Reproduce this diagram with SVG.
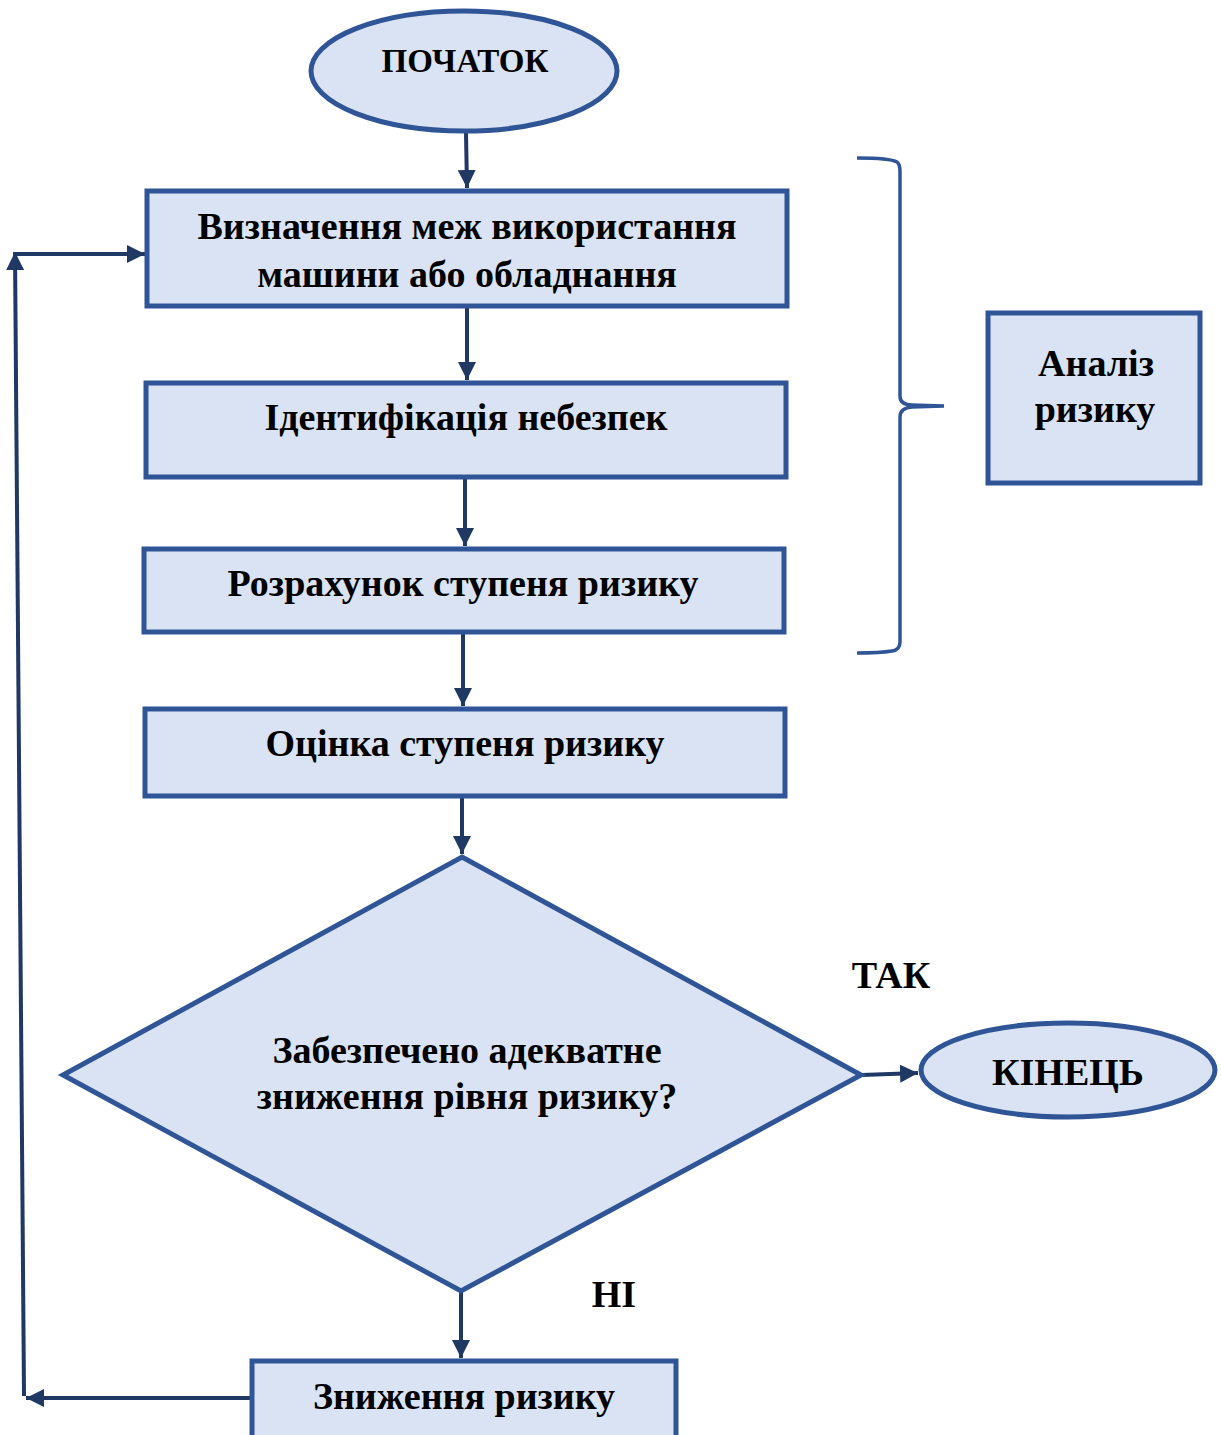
<svg xmlns="http://www.w3.org/2000/svg" width="1221" height="1435" viewBox="0 0 1221 1435">
<defs>
<style>
.n{fill:#DAE3F3;stroke:#2F5597;stroke-width:5}
.t{font-family:"Liberation Serif","Times New Roman",serif;font-weight:bold;fill:#000;text-anchor:middle;font-size:38px}
.c{fill:none;stroke:#1F3864;stroke-width:4}
.b{fill:none;stroke:#2F5597;stroke-width:3.5}
</style>
<marker id="ah" viewBox="0 0 10 10" refX="10" refY="5" markerWidth="4.5" markerHeight="4.5" orient="auto" markerUnits="strokeWidth">
<path d="M0,0 L10,5 L0,10 z" fill="#1F3864"/>
</marker>
</defs>
<rect width="1221" height="1435" fill="#fff"/>
<g id="connectors">
<line class="c" x1="466" y1="133" x2="467" y2="188" marker-end="url(#ah)"/>
<line class="c" x1="467" y1="308" x2="467" y2="380" marker-end="url(#ah)"/>
<line class="c" x1="465" y1="479" x2="465" y2="546" marker-end="url(#ah)"/>
<line class="c" x1="463" y1="634" x2="463" y2="706" marker-end="url(#ah)"/>
<line class="c" x1="462" y1="798" x2="462" y2="854" marker-end="url(#ah)"/>
<line class="c" x1="461" y1="1292" x2="461" y2="1358" marker-end="url(#ah)"/>
<line class="c" x1="862" y1="1075" x2="918" y2="1073" marker-end="url(#ah)"/>
<line class="c" x1="251" y1="1398" x2="26" y2="1398" marker-end="url(#ah)"/>
<line class="c" x1="24" y1="1396" x2="15" y2="252" marker-end="url(#ah)"/>
<line class="c" x1="15" y1="254" x2="145" y2="254" marker-end="url(#ah)"/>
</g>
<g id="brace">
<path class="b" d="M857,158 Q890,158 897,162 Q900,164 900,172 L900,396 Q900,405 912,405 L944,406 L912,407 Q900,408 900,417 L900,642 Q900,650 892,651 Q880,653 857,653"/>
</g>
<g id="start">
<ellipse class="n" cx="464" cy="71" rx="153" ry="60"/>
<text class="t" x="465" y="72" style="font-size:33px">ПОЧАТОК</text>
</g>
<g id="box1">
<rect class="n" x="147" y="191" width="640" height="115"/>
<text class="t" x="467" y="239">Визначення меж використання</text>
<text class="t" x="467" y="287">машини або обладнання</text>
</g>
<g id="box2">
<rect class="n" x="146" y="383" width="640" height="94"/>
<text class="t" x="466" y="430">Ідентифікація небезпек</text>
</g>
<g id="box3">
<rect class="n" x="144" y="549" width="640" height="83"/>
<text class="t" x="463" y="596">Розрахунок ступеня ризику</text>
</g>
<g id="box4">
<rect class="n" x="145" y="709" width="640" height="87"/>
<text class="t" x="465" y="756">Оцінка ступеня ризику</text>
</g>
<g id="analysis">
<rect class="n" x="988" y="313" width="212" height="170"/>
<text class="t" x="1096" y="376">Аналіз</text>
<text class="t" x="1095" y="422">ризику</text>
</g>
<g id="decision">
<polygon class="n" points="462,857 861,1075 461,1291 63,1075"/>
<text class="t" x="467" y="1063">Забезпечено адекватне</text>
<text class="t" x="467" y="1109">зниження рівня ризику?</text>
</g>
<g id="end">
<ellipse class="n" cx="1068" cy="1070" rx="147" ry="47"/>
<text class="t" x="1068" y="1085">КІНЕЦЬ</text>
</g>
<g id="reduce">
<rect class="n" x="252" y="1361" width="424" height="80"/>
<text class="t" x="464" y="1409">Зниження ризику</text>
</g>
<g id="labels">
<text class="t" x="891" y="988">ТАК</text>
<text class="t" x="614" y="1307">НІ</text>
</g>
</svg>
